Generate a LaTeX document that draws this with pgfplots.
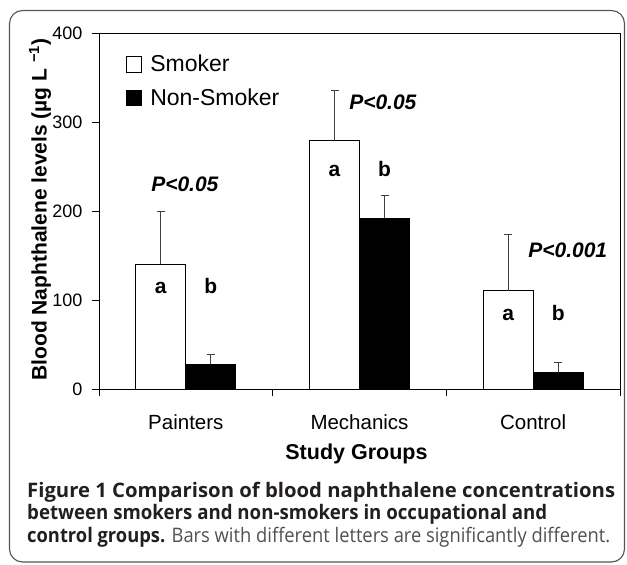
\documentclass[border=0pt]{standalone}
\usepackage{pgfplots}
\pgfplotsset{compat=1.18}
\usepackage{pgfplotstable}
\usepackage{graphicx}
\usepackage{fontspec}
\setmainfont{Liberation Sans}
\newfontfamily\capfont{Open Sans}
\definecolor{capdark}{HTML}{231F20}
\definecolor{capgray}{HTML}{505050}
\definecolor{framegray}{HTML}{555555}
\definecolor{errgray}{HTML}{404040}

\pgfplotstableread{
x y err
0 140 60
1 279 56
2 110.5 63.5
}\smoker
\pgfplotstableread{
x y err
0 28 11
1 192 25
2 18.3 11
}\nonsmoker

\begin{document}
\begin{tikzpicture}[x=1pt,y=1pt]
\path[use as bounding box] (0,0) rectangle (627,-565);
\draw[line width=1.1pt, framegray, rounded corners=13pt] (9.5,-10.5) rectangle (624.5,-562);
\begin{axis}[
  at={(99pt,-389pt)}, anchor=south west,
  scale only axis, width=521pt, height=356pt,
  xmin=-0.5, xmax=2.5, ymin=0, ymax=400,
  ybar=0pt, bar width=50pt,
  axis line style={line width=1pt},
  tick style={line width=1pt, black},
  tick align=outside, tick pos=left,
  major tick length=7pt,
  xtick={-0.5,0.5,1.5,2.5}, xticklabels={},
  extra x ticks={0,1,2},
  extra x tick labels={Painters,Mechanics,Control},
  extra x tick style={major tick length=0pt},
  ytick={0,100,200,300,400},
  /pgf/number format/assume math mode=true,
  x tick label style={font=\fontsize{20.5}{24}\selectfont, anchor=base, yshift=-40pt},
  y tick label style={font=\fontsize{18}{22}\selectfont, xshift=-6pt},
  xlabel={Study Groups},
  ylabel={Blood Naphthalene levels (µg L \textsuperscript{−1})},
  xlabel style={font=\bfseries\fontsize{21.5}{24}\selectfont, at={(axis description cs:0.4942,-0.1994)}, anchor=base},
  ylabel style={font=\bfseries\fontsize{21}{24}\selectfont, at={(axis description cs:-0.1004,0.5042)}, anchor=base},
  legend style={draw=none, fill=none, at={(rel axis cs:0.0514,0.939)}, anchor=north west,
    font=\fontsize{23}{23}\selectfont, inner sep=0pt, row sep=11.5pt, column sep=8pt,
    nodes={inner sep=0pt, text height=17pt, text depth=5pt}},
  legend cell align=left,
  legend image code/.code={\draw[#1, line width=0.8pt] (0pt,-6pt) rectangle (15.5pt,9.3pt);},
  error bars/y dir=plus, error bars/y explicit,
  error bars/error bar style={errgray, line width=0.9pt},
  error bars/error mark options={rotate=90, mark size=4pt, errgray, line width=0.9pt},
]
\addplot[fill=white, draw=black, line width=0.8pt] table[x=x, y=y, y error=err] {\smoker};
\addplot[fill=black, draw=black, line width=0.8pt] table[x=x, y=y, y error=err] {\nonsmoker};
\legend{Smoker,Non-Smoker}
\begin{scope}[every node/.style={font=\bfseries\fontsize{21}{24}\selectfont, anchor=base, inner sep=0pt}]
\node at (axis cs:-0.144,107.5) {a};
\node at (axis cs:0.144,107.5) {b};
\node at (axis cs:0.856,238.5) {a};
\node at (axis cs:1.144,238.5) {b};
\node at (axis cs:1.856,76.7) {a};
\node at (axis cs:2.144,76.7) {b};
\node at (axis cs:-0.005,221.7) {\textit{P<0.05}};
\node at (axis cs:1.135,314.3) {\textit{P<0.05}};
\node at (axis cs:2.199,148) {\textit{P<0.001}};
\end{scope}
\end{axis}
\node[anchor=base west, inner sep=0pt, capdark] at (27,-497.7) {\resizebox{588pt}{\height}{\capfont\fontsize{20}{22}\selectfont\bfseries Figure 1 Comparison of blood naphthalene concentrations}};
\node[anchor=base west, inner sep=0pt, capdark] at (27,-519.5) {\resizebox{520pt}{\height}{\capfont\fontsize{20}{22}\selectfont\bfseries between smokers and non-smokers in occupational and}};
\node[anchor=base west, inner sep=0pt, capdark] at (27,-542.3) {\resizebox{583pt}{\height}{\capfont\fontsize{20}{22}\selectfont\textbf{control groups.} \textcolor{capgray}{Bars with different letters are significantly different.}}};
\end{tikzpicture}
\end{document}
